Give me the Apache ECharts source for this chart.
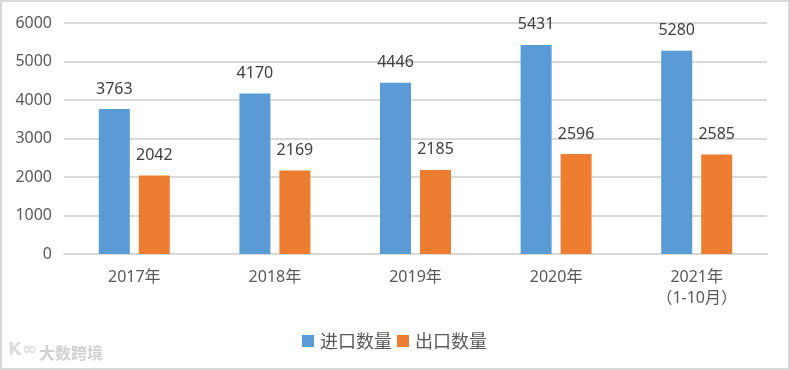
<!DOCTYPE html>
<html><head><meta charset="utf-8">
<style>html,body{margin:0;padding:0;background:#fff}#c{width:790px;height:370px}</style>
<script src="https://cdn.jsdelivr.net/npm/echarts@6/dist/echarts.min.js"></script>
</head><body><div id="c"></div>
<script>
const categories = ['2017年','2018年','2019年','2020年','2021年\n（1-10月）'];
const importValues = [3763,4170,4446,5431,5280];
const exportValues = [2042,2169,2185,2596,2585];
const yTicks = {min:0,max:6000,interval:1000};
const font = '"Noto Sans","Noto Sans CJK SC",sans-serif';
const chart = echarts.init(document.getElementById('c'),null,{renderer:'canvas'});
const label = {show:true,position:'top',distance:12,color:'#404040',fontSize:16,fontFamily:font};
chart.setOption({
  animation:false,
  backgroundColor:'#fff',
  grid:{left:64,right:23,top:23,bottom:116},
  legend:{left:297,top:327,itemWidth:12,itemHeight:12,itemGap:5,icon:'rect',
    textStyle:{color:'#595959',fontSize:18,fontFamily:'"Noto Sans CJK SC",sans-serif',padding:[0,0,0,1]}},
  xAxis:{type:'category',data:categories,
    axisLine:{lineStyle:{color:'#d9d9d9',width:2}},axisTick:{show:false},
    axisLabel:{color:'#595959',fontSize:16,fontFamily:font,margin:13,lineHeight:21,formatter:v=>v}},
  yAxis:{type:'value',min:yTicks.min,max:yTicks.max,interval:yTicks.interval,
    axisLine:{show:false},axisTick:{show:false},
    splitLine:{lineStyle:{color:'#d9d9d9',width:2}},
    axisLabel:{color:'#595959',fontSize:16,fontFamily:font,margin:12,formatter:v=>String(v)}},
  series:[
    {name:'进口数量',type:'bar',data:importValues,barWidth:31,barGap:'29%',itemStyle:{color:'#5b9bd5'},label},
    {name:'出口数量',type:'bar',data:exportValues,barWidth:31,itemStyle:{color:'#ed7d31'},label}
  ],
  graphic:[
    {type:'rect',silent:true,z:-1,shape:{x:1,y:1,width:788,height:368},style:{fill:'none',stroke:'#d9d9d9',lineWidth:2}},
    {type:'text',silent:true,left:39,top:345,style:{text:'大数跨境',fill:'#d0d0d0',font:'bold 16px "Noto Sans CJK SC",sans-serif'}},
    {type:'text',silent:true,left:8,top:341,style:{text:'K∞',fill:'#dddddd',font:'bold 18px "DejaVu Sans",sans-serif'}}
  ]
});
</script></body></html>
